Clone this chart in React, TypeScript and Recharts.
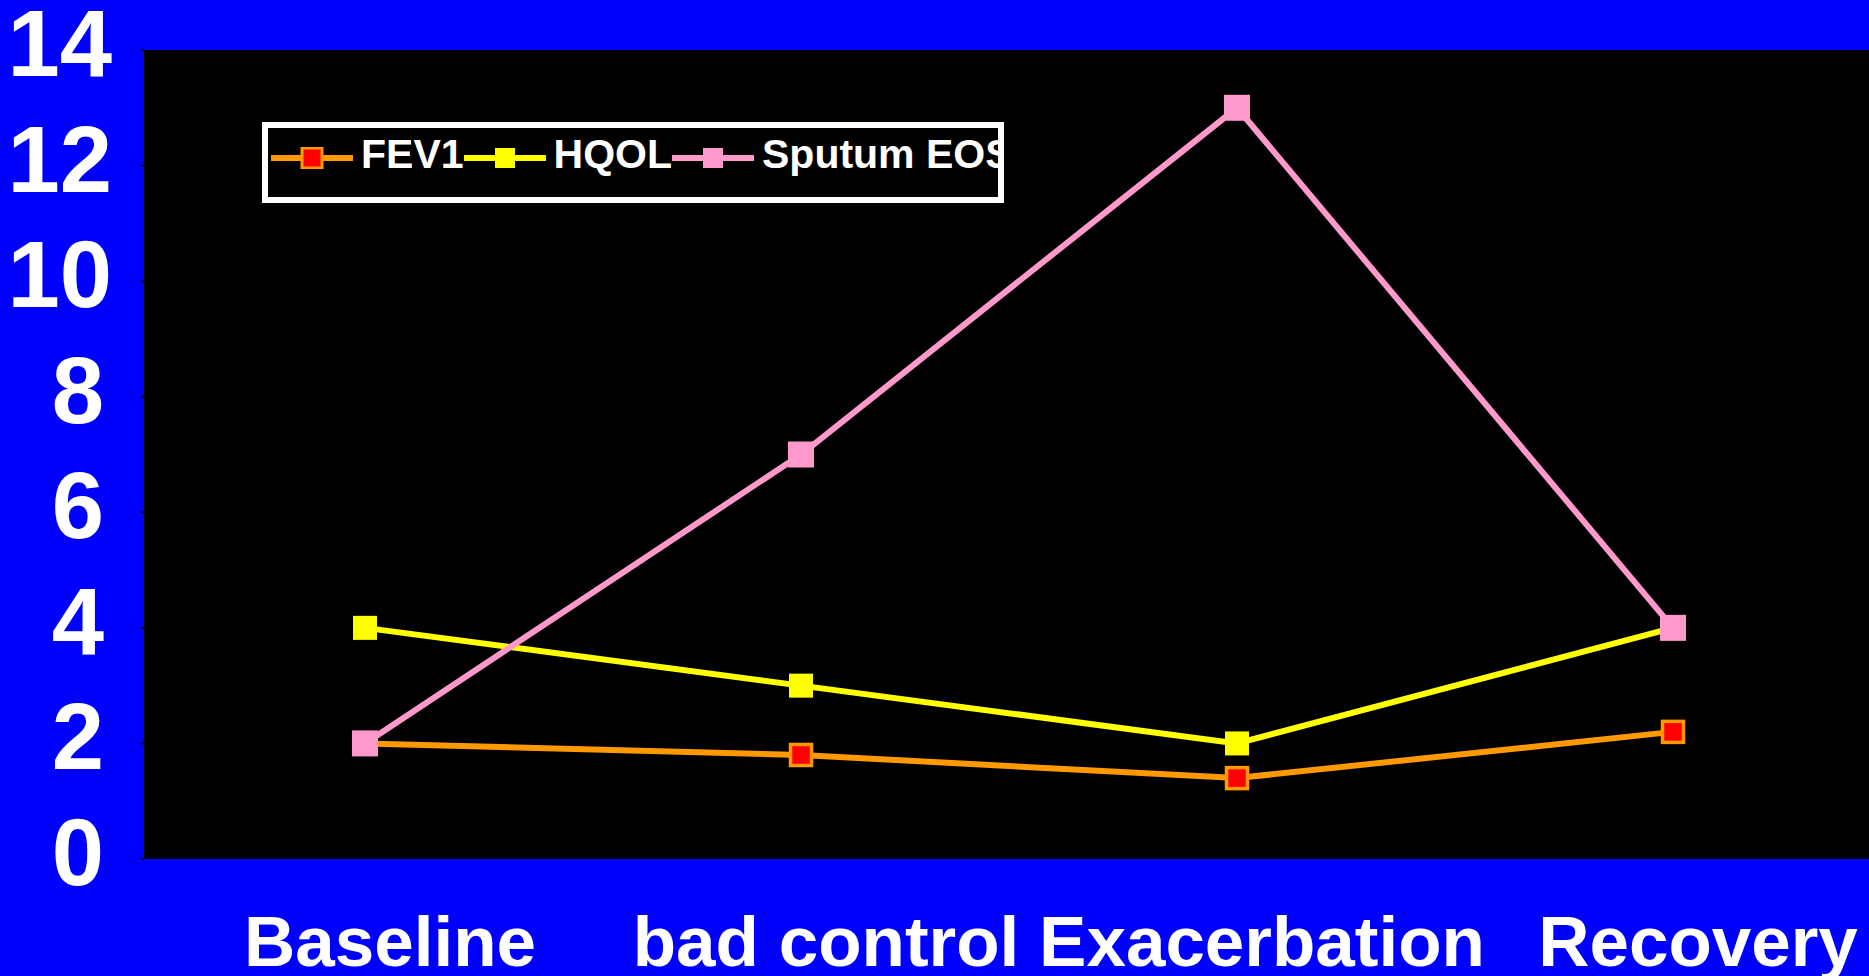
import React from 'react';
import {
  CartesianGrid,
  Legend,
  Line,
  LineChart,
  XAxis,
  YAxis,
} from 'recharts';

const phases = ['Baseline', 'bad control', 'Exacerbation', 'Recovery'];
const fev1 = [2, 1.8, 1.4, 2.2];
const hqol = [4, 3, 2, 4];
const sputumEos = [2, 7, 13, 4];
const yTicks = [0, 2, 4, 6, 8, 10, 12, 14];

const data = phases.map((name, i) => ({
  name,
  fev1: fev1[i],
  hqol: hqol[i],
  sputum: sputumEos[i],
}));

const FONT = '"Liberation Sans", Arial, Helvetica, sans-serif';

const colors = {
  page: '#0000FF',
  plot: '#000000',
  orange: '#FF9900',
  red: '#FF0000',
  yellow: '#FFFF00',
  pink: '#FF99CC',
  text: '#FFFFFF',
};

const series = [
  { key: 'fev1', label: 'FEV1', stroke: colors.orange, fill: colors.red, size: 21, border: 3.5 },
  { key: 'hqol', label: 'HQOL', stroke: colors.yellow, fill: colors.yellow, size: 24, border: 0 },
  { key: 'sputum', label: 'Sputum EOS', stroke: colors.pink, fill: colors.pink, size: 26, border: 0 },
];

type S = (typeof series)[number];

// square marker centred on the point
const squareDot = (s: S) => (props: any) => {
  const { cx, cy, index } = props;
  if (cx == null || cy == null) return <g key={index} />;
  return (
    <rect
      key={index}
      x={cx - s.size / 2}
      y={cy - s.size / 2}
      width={s.size}
      height={s.size}
      fill={s.fill}
      stroke={s.border ? s.stroke : 'none'}
      strokeWidth={s.border}
    />
  );
};

const YTick = (props: any) => {
  const { y, payload } = props;
  const x = payload.value >= 10 ? 112 : 104;
  return (
    <text
      x={x}
      y={y + 26}
      textAnchor="end"
      fill={colors.text}
      fontFamily={FONT}
      fontWeight="bold"
      fontSize={94}
    >
      {payload.value}
    </text>
  );
};

const XTick = (props: any) => {
  const { x, payload } = props;
  return (
    <text
      x={x + 25}
      y={966}
      textAnchor="middle"
      fill={colors.text}
      fontFamily={FONT}
      fontWeight="bold"
      fontSize={71}
    >
      {payload.value}
    </text>
  );
};

const LegendBox = () => (
  <div
    style={{
      boxSizing: 'border-box',
      width: 742,
      height: 81,
      border: '6px solid #fff',
      background: '#000',
      overflow: 'hidden',
      whiteSpace: 'nowrap',
      display: 'flex',
      alignItems: 'center',
      paddingLeft: 3,
      paddingBottom: 10,
    }}
  >
    {series.map((s) => (
      <div key={s.key} style={{ display: 'flex', alignItems: 'center', flexShrink: 0 }}>
        <svg width={82} height={22} style={{ display: 'block' }}>
          <line x1={0} y1={11} x2={82} y2={11} stroke={s.stroke} strokeWidth={6} />
          <rect
            x={31}
            y={1}
            width={20}
            height={20}
            fill={s.fill}
            stroke={s.border ? s.stroke : 'none'}
            strokeWidth={s.border ? 3 : 0}
          />
        </svg>
        <span
          style={{
            position: 'relative',
            top: -4,
            marginLeft: 8,
            color: colors.text,
            fontFamily: FONT,
            fontWeight: 'bold',
            fontSize: 41,
            lineHeight: '42px',
          }}
        >
          {s.label}
        </span>
      </div>
    ))}
  </div>
);

export default function App() {
  return (
    <div
      style={{
        position: 'fixed',
        left: 0,
        top: 0,
        width: 1869,
        height: 976,
        background: colors.page,
        overflow: 'hidden',
      }}
    >
      <LineChart
        width={1891}
        height={976}
        data={data}
        margin={{ top: 50, right: 0, bottom: 0, left: 0 }}
      >
        <CartesianGrid horizontal={false} vertical={false} fill={colors.plot} stroke="none" />
        <XAxis
          dataKey="name"
          height={117}
          axisLine={false}
          tickLine={false}
          padding={{ left: 221, right: 218 }}
          tick={<XTick />}
          interval={0}
        />
        <YAxis
          width={144}
          domain={[0, 14]}
          ticks={yTicks}
          interval={0}
          axisLine={false}
          tickLine={{ stroke: '#000', strokeWidth: 2 }}
          tickSize={3}
          tick={<YTick />}
        />
        <Legend
          layout="vertical"
          align="center"
          verticalAlign="middle"
          content={<LegendBox />}
          wrapperStyle={{ left: 262, top: 122, width: 742, height: 81 }}
        />
        {series.map((s) => (
          <Line
            key={s.key}
            type="linear"
            dataKey={s.key}
            name={s.label}
            stroke={s.stroke}
            strokeWidth={6}
            dot={squareDot(s)}
            activeDot={false}
            isAnimationActive={false}
          />
        ))}
      </LineChart>
    </div>
  );
}
